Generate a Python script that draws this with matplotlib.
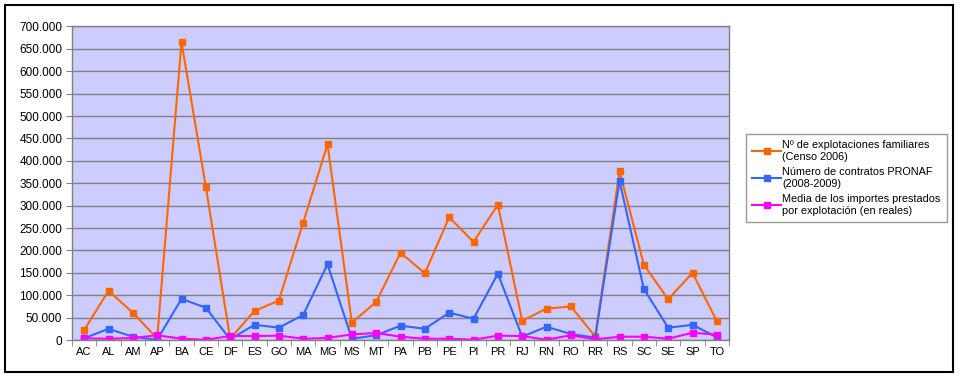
import numpy as np
import matplotlib.pyplot as plt
from matplotlib.patches import Rectangle
from matplotlib.ticker import FuncFormatter

plt.rcParams['font.family'] = ['Liberation Sans', 'DejaVu Sans']

# Datos por estado
estados = ['AC', 'AL', 'AM', 'AP', 'BA', 'CE', 'DF', 'ES', 'GO', 'MA', 'MG', 'MS', 'MT', 'PA',
           'PB', 'PE', 'PI', 'PR', 'RJ', 'RN', 'RO', 'RR', 'RS', 'SC', 'SE', 'SP', 'TO']

explotaciones = [22000, 110000, 61000, 3500, 665000, 342000, 3000, 65000, 88000, 262000, 437000,
                 39000, 85000, 195000, 149000, 274000, 219000, 302000, 43000, 70000, 75000, 8000,
                 377000, 168000, 91000, 150000, 42000]

contratos = [3800, 25000, 7400, 500, 92000, 72000, 1500, 34000, 27500, 56000, 169000, 2900,
             10500, 32000, 25000, 61000, 47500, 148000, 7400, 29600, 13400, 5100, 355000, 114000,
             27400, 34000, 6000]

media_importes = [3800, 2900, 4500, 10500, 2900, 700, 8900, 8900, 9700, 2900, 4500, 12600, 15600,
                  7400, 2900, 2900, 700, 9700, 8900, 700, 10500, 1500, 7400, 7400, 2900, 16300,
                  11900]

etiquetas = ['Nº de explotaciones familiares\n(Censo 2006)',
             'Número de contratos PRONAF\n(2008-2009)',
             'Media de los importes prestados\npor explotación (en reales)']
colores = ['#FF6600', '#3366FF', '#FF00FF']

fig = plt.figure(figsize=(9.6, 3.78), dpi=100)
ax = fig.add_axes([0.075, 0.1005, 0.6844, 0.8295])
ax.set_facecolor('#CCCCFF')

x = np.arange(len(estados))
for serie, lab, c in zip([explotaciones, contratos, media_importes], etiquetas, colores):
    ax.plot(x, serie, color=c, lw=1.5, marker='s', ms=4.5, label=lab)

ax.set_xlim(-0.5, len(estados) - 0.5)
ax.set_ylim(0, 700000)
ax.set_yticks(np.arange(0, 700001, 50000))
ax.yaxis.set_major_formatter(FuncFormatter(lambda v, p: f'{int(v):,}'.replace(',', '.')))
ax.set_xticks(x)
ax.set_xticklabels(estados)
ax.set_xticks(np.arange(-0.5, len(estados)), minor=True)
ax.tick_params(axis='x', which='major', length=0, pad=5, labelsize=8)
ax.tick_params(axis='x', which='minor', length=4, color='#808080')
ax.tick_params(axis='y', length=4, color='#808080', labelsize=8.5, pad=3)
ax.grid(axis='y', color='#808080', lw=1)
ax.set_axisbelow(True)
for s in ax.spines.values():
    s.set_color('#808080')
    s.set_linewidth(1)

leg = fig.legend(loc='upper left', bbox_to_anchor=(0.777, 0.646), fontsize=7.8,
                 frameon=True, fancybox=False, edgecolor='#808080', handlelength=2.6,
                 handletextpad=0.15, borderpad=0.6, labelspacing=0.5, borderaxespad=0)
leg.get_frame().set_linewidth(1)

# Marco exterior
fig.patches.append(Rectangle((5 / 960, 6 / 378), 948 / 960, 367 / 378, transform=fig.transFigure,
                             fill=False, edgecolor='black', lw=1.5))

fig.savefig('out.png', dpi=100)
